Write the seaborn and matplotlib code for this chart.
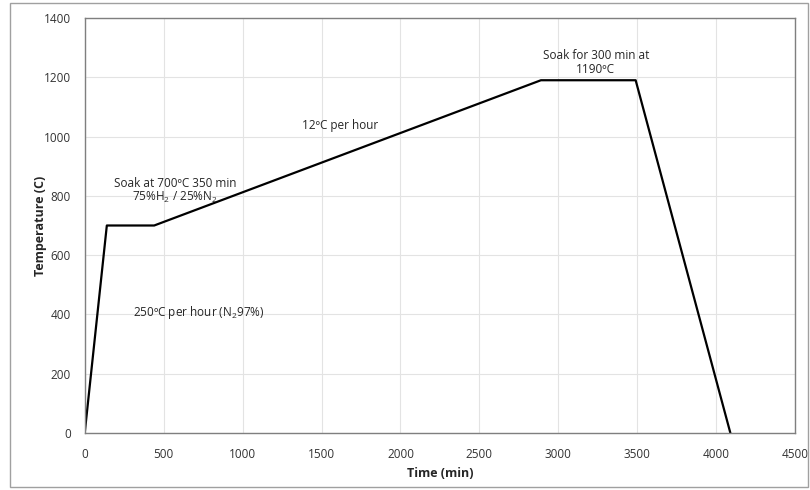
import matplotlib
matplotlib.use("Agg")
import matplotlib.pyplot as plt
import seaborn as sns
import pandas as pd
from matplotlib.patches import Rectangle

# Heat treatment schedule
time_min = [0, 140, 440, 2890, 3490, 4090]
temp_c = [0, 700, 700, 1190, 1190, 0]

x_ticks = [0, 500, 1000, 1500, 2000, 2500, 3000, 3500, 4000, 4500]
y_ticks = [0, 200, 400, 600, 800, 1000, 1200, 1400]

sns.set_theme(style="whitegrid")
plt.rcParams["font.family"] = ["Open Sans", "DejaVu Sans"]
plt.rcParams["mathtext.fontset"] = "custom"
plt.rcParams["mathtext.rm"] = "Open Sans"
plt.rcParams["mathtext.it"] = "Open Sans"

df = pd.DataFrame({"Time (min)": time_min, "Temperature (C)": temp_c})

fig = plt.figure(figsize=(8.1, 4.9), dpi=100)
ax = fig.add_axes([0.1046, 0.1163, 0.877, 0.847])
sns.lineplot(data=df, x="Time (min)", y="Temperature (C)", ax=ax,
             color="black", linewidth=1.6, sort=False)

ax.set_xlim(0, 4500)
ax.set_ylim(0, 1400)
ax.set_xticks(x_ticks)
ax.set_yticks(y_ticks)
ax.tick_params(axis="x", length=0, labelsize=8.5, colors="#333333", pad=11)
ax.tick_params(axis="y", length=0, labelsize=8.5, colors="#333333", pad=10)
ax.grid(True, color="#e3e3e3", linewidth=0.8)
for s in ax.spines.values():
    s.set_color("#7f7f7f")
    s.set_linewidth(1.0)
ax.set_xlabel("Time (min)", fontsize=9, fontweight="bold")
ax.set_ylabel("Temperature (C)", fontsize=9, fontweight="bold")
ax.xaxis.set_label_coords(0.5, -0.083)
ax.yaxis.set_label_coords(-0.053, 0.5)

fs = 8.5
ax.text(573, 843, "Soak at 700ºC 350 min", ha="center", va="center", fontsize=fs)
ax.text(573, 793, "75%H$_2$ / 25%N$_2$", ha="center", va="center", fontsize=fs)
ax.text(725, 405, "250ºC per hour (N$_2$97%)", ha="center", va="center", fontsize=fs)
ax.text(1619, 1036, "12ºC per hour", ha="center", va="center", fontsize=fs)
ax.text(3237, 1275, "Soak for 300 min at", ha="center", va="center", fontsize=fs)
ax.text(3237, 1225, "1190ºC", ha="center", va="center", fontsize=fs)

# outer chart border
fig.patches.append(Rectangle((0.012, 0.006), 0.985, 0.988, transform=fig.transFigure,
                             fill=False, edgecolor="#a0a0a0", linewidth=1.0))

fig.savefig("out.png", dpi=100)
plt.close()
